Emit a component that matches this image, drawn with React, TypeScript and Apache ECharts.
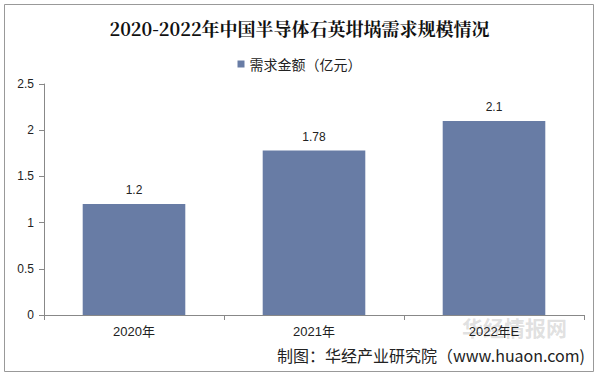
import React, { useEffect, useRef } from "react";
import * as echarts from "echarts";

const categories = ["2020年", "2021年", "2022年E"];
const values = [1.2, 1.78, 2.1];
const yTicks = [0, 0.5, 1, 1.5, 2, 2.5];
const seriesName = "需求金额（亿元）";
const titleText = "2020-2022年中国半导体石英坩埚需求规模情况";
const sourceText = "制图：华经产业研究院（www.huaon.com)";

export default function App() {
  const ref = useRef<HTMLDivElement>(null);
  useEffect(() => {
    if (!ref.current) return;
    const chart = echarts.init(ref.current, undefined, { renderer: "svg" });
    chart.setOption({
      animation: false,
      backgroundColor: "#fff",
      title: {
        text: titleText,
        left: "center",
        top: 14,
        textStyle: { fontFamily: "Noto Serif CJK SC, Noto Sans CJK SC, serif", fontSize: 18, fontWeight: "bold", color: "#111" },
      },
      legend: {
        top: 52,
        left: "center",
        itemWidth: 7,
        itemHeight: 7,
        itemGap: 4,
        icon: "rect",
        textStyle: { fontFamily: "Noto Sans CJK SC", fontSize: 14, color: "#222" },
        data: [seriesName],
      },
      grid: { left: 44, right: 15, top: 84, bottom: 64 },
      xAxis: {
        type: "category",
        data: categories,
        axisLine: { lineStyle: { color: "#888" } },
        axisTick: { show: true, alignWithLabel: false, lineStyle: { color: "#888" } },
        axisLabel: { fontFamily: "Liberation Sans, Noto Sans CJK SC", fontSize: 13, color: "#222", margin: 10 },
      },
      yAxis: {
        type: "value",
        min: 0,
        max: 2.5,
        interval: 0.5,
        splitLine: { show: false },
        axisLine: { show: true, lineStyle: { color: "#888" } },
        axisTick: { show: true, lineStyle: { color: "#888" } },
        axisLabel: {
          fontFamily: "Liberation Sans",
          fontSize: 12,
          color: "#222",
          margin: 10,
          formatter: (v: number) => (yTicks.includes(v) ? String(v) : ""),
        },
      },
      series: [
        {
          name: seriesName,
          type: "bar",
          data: values,
          barWidth: "57%",
          itemStyle: { color: "#687ca5" },
          label: { show: true, position: "top", fontFamily: "Liberation Sans", fontSize: 12, color: "#222", distance: 8 },
        },
      ],
      graphic: [
        {
          type: "rect",
          shape: { x: 4.5, y: 4.5, width: 589, height: 367 },
          style: { fill: "none", stroke: "#999", lineWidth: 1 },
          silent: true,
        },
        {
          type: "text",
          right: 14,
          top: 347,
          style: { text: sourceText, font: "16px 'Noto Sans CJK SC'", fill: "#222" },
        },
        {
          type: "text",
          left: 462,
          top: 316,
          style: { text: "华经情报网", font: "bold 21px 'Noto Sans CJK SC'", fill: "rgba(150,150,150,0.3)" },
        },
      ],
    });
    return () => chart.dispose();
  }, []);
  return <div ref={ref} style={{ position: "absolute", left: 0, top: 0, width: 599, height: 379 }} />;
}
